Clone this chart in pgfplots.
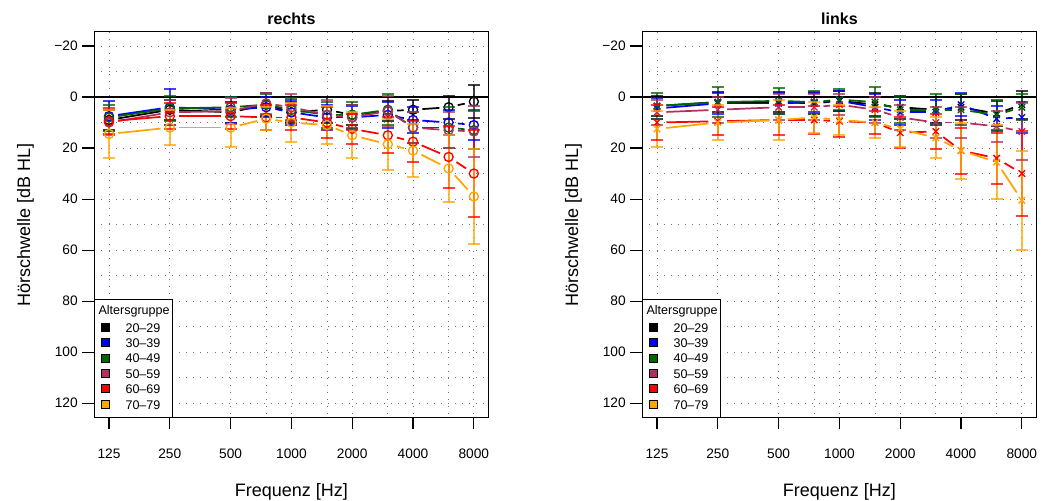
\documentclass[border=0pt]{standalone}
\usepackage{pgfplots}
\pgfplotsset{compat=1.18}
\usepackage{pgfplotstable}
\usepackage{fontspec}
\setmainfont{Liberation Sans}

% Farben der Altersgruppen
\definecolor{g20}{HTML}{000000}
\definecolor{g30}{HTML}{0000FF}
\definecolor{g40}{HTML}{006400}
\definecolor{g50}{HTML}{B03060}
\definecolor{g60}{HTML}{FF0000}
\definecolor{g70}{HTML}{FFA500}

% Mittelwert (m) und Standardabweichung (s) der Hörschwelle in dB HL
\pgfplotstableread{
f    m20 s20 m30 s30 m40 s40 m50  s50 m60  s60  m70  s70
125  9   4   7.5 6   8   5   10   5   9.5  5    14.5 9.5
250  5   4   4   7   4.5 5   6    5   7.5  5    12   7
500  6   4   5   5   4   4   5.5  5   7.5  5    12   7.5
750  3   4.5 4   4   3   4   2.5  4   8    5    8.5  4.5
1000 6   4   6   5   5   4.5 4    5   8    5    10   7.5
1500 5   5   8   5   7   5   7    6   10   6    11   7.5
2000 7   4   8   4.5 7   5   8    5   12.5 6    15   9
3000 5.5 4   7   5   5   6   5.5  6   15   7    18.5 10
4000 5   4   9   5   12  6   12   6   17.5 8    21   10.5
6000 4   4.5 10  5   12  8   13   7   23.5 12   28   13
8000 1.8 6.5 11  6   13  7.5 13.5 10  30   17   39   18.5
}\rechts

\pgfplotstableread{
f    m20 s20 m30 s30 m40 s40 m50  s50 m60  s60  m70  s70
125  3.5 4   4.5 4   3.5 5   6    5   10   7    12.5 7
250  2   4   2.5 4   2   6   5    5   9.5  5.5  10   7
500  2   4   2.5 4   1.5 5   4    5   9    6    9    8
750  2.5 4   2   4   2   4.5 4    5   9    5.5  8    6
1000 1.5 4   1.5 4   1   4   3    4   9.5  6    9    6
1500 3   4.5 4   5   2   6   5    5   10   4.5  10   6
2000 4   4.5 6   5   5   5   8    5   14   6    12.5 7
3000 5   5   6   5   5   6   10   6   13.5 7    16   8
4000 4   5   3   4.5 5   6   10   6   21   9    21   11
6000 6.5 5   8.5 5   7   6   11.5 6   24   10   25.5 14.5
8000 3   5.5 8   6   4   5   13.5 11  30   16.5 40.5 19.5
}\links

\pgfplotsset{
  sq/.style={legend image code/.code={%
      \path (0pt,0pt);
      \draw[fill=#1, draw=black, line width=0.5pt] (2.25pt,-3pt) rectangle ++(6pt,6pt);}},
  hoer/.style={
    scale only axis, width=295.5pt, height=289.2pt,
    xmin=-0.24, xmax=6.24, ymin=-25.6, ymax=125.6, y dir=reverse,
    xtick={0,1,2,3,4,5,6},
    xticklabels={125,250,500,1000,2000,4000,8000},
    minor xtick={2.585,3.585,4.585,5.585},
    ytick={-20,0,20,40,60,80,100,120},
    yticklabels={−20,0,20,40,60,80,100,120},
    minor ytick={-10,10,30,50,70,90,110},
    grid=both,
    major grid style={black!55, line width=0.7pt, dash pattern=on 0.7pt off 4.6pt},
    minor grid style={black!55, line width=0.7pt, dash pattern=on 0.7pt off 4.6pt},
    tick pos=left, tick align=outside,
    major tick length=9pt, minor tick length=0pt,
    every tick/.style={black, line width=0.8pt},
    axis line style={line width=0.8pt},
    ticklabel style={font=\fontsize{10.3}{12}\selectfont},
    xticklabel style={yshift=-11.5pt},
    xlabel={Frequenz [Hz]}, ylabel={Hörschwelle [dB HL]},
    label style={font=\fontsize{13.5}{15}\selectfont},
    xlabel style={at={(axis description cs:0.5,-0.1945)}, anchor=center},
    ylabel style={at={(axis description cs:-0.175,0.5)}, anchor=center, rotate=0},
    title style={font=\bfseries\fontsize{12}{14}\selectfont,
                 at={(axis description cs:0.5,1.0123)}, anchor=center},
    legend cell align=left,
    legend style={at={(axis description cs:0,0)}, anchor=south west,
      draw=black, line width=0.6pt, fill=white,
      inner xsep=2.25pt, inner ysep=3.8pt, row sep=0pt, column sep=12pt,
      font=\fontsize{9.4}{11}\selectfont,
      nodes={inner sep=0pt, text height=9.475pt, text depth=2.075pt}},
  },
}

% Eine Altersgruppe: Liniensegmente mit Lücken, Fehlerbalken mit Querstrichen, Marker
% (x = Oktavposition, 125 Hz = 0)
\newcommand{\drawgroup}[4]{%
  \pgfplotsinvokeforeach{0:1,1:2,2:3,3:4,4:5,5:6,6:7,7:8,8:9,9:10}{%
    \addplot[#3, line width=1.3pt, shorten <=7pt, shorten >=7pt, forget plot,
      restrict expr to domain={\coordindex}{##1}]
      table[x expr={ln(\thisrow{f}/125)/ln(2)}, y=m#2] {#1};
  }
  \addplot[#3, draw opacity=0, mark=none, forget plot,
    error bars/.cd, y dir=both, y explicit, error mark=none,
    error bar style={line width=1.5pt, opacity=0.75}]
    table[x expr={ln(\thisrow{f}/125)/ln(2)}, y=m#2, y error=s#2] {#1};
  \addplot[#3, only marks, mark=-, mark size=4.5pt, forget plot,
    mark options={line width=1.5pt, opacity=0.75}]
    table[x expr={ln(\thisrow{f}/125)/ln(2)}, y expr={\thisrow{m#2}-\thisrow{s#2}}] {#1};
  \addplot[#3, only marks, mark=-, mark size=4.5pt, forget plot,
    mark options={line width=1.5pt, opacity=0.75}]
    table[x expr={ln(\thisrow{f}/125)/ln(2)}, y expr={\thisrow{m#2}+\thisrow{s#2}}] {#1};
  \addplot[#3, only marks, mark=#4, mark size=3.4pt, forget plot,
    mark options={line width=1pt, solid, fill=none}]
    table[x expr={ln(\thisrow{f}/125)/ln(2)}, y=m#2] {#1};
}

\newcommand{\legendkeys}{%
  \addlegendimage{empty legend}\addlegendentry{\hspace*{-20.25pt}\raisebox{1.5pt}{Altersgruppe}}
  \addlegendimage{sq=g20}\addlegendentry{20–29}
  \addlegendimage{sq=g30}\addlegendentry{30–39}
  \addlegendimage{sq=g40}\addlegendentry{40–49}
  \addlegendimage{sq=g50}\addlegendentry{50–59}
  \addlegendimage{sq=g60}\addlegendentry{60–69}
  \addlegendimage{sq=g70}\addlegendentry{70–79}
}

\begin{document}
\begin{tikzpicture}
\useasboundingbox (0,0) rectangle (781.5pt,375pt);

\begin{axis}[hoer, at={(70.8pt,62pt)}, anchor=south west, title={rechts}]
  \legendkeys
  \drawgroup{\rechts}{20}{g20}{o}
  \drawgroup{\rechts}{30}{g30}{o}
  \drawgroup{\rechts}{40}{g40}{o}
  \drawgroup{\rechts}{50}{g50}{o}
  \drawgroup{\rechts}{60}{g60}{o}
  \drawgroup{\rechts}{70}{g70}{o}
  \addplot[black, line width=2.2pt, forget plot] coordinates {(-0.24,0) (6.24,0)};
\end{axis}

\begin{axis}[hoer, at={(481.8pt,62pt)}, anchor=south west, title={links}]
  \legendkeys
  \drawgroup{\links}{20}{g20}{x}
  \drawgroup{\links}{30}{g30}{x}
  \drawgroup{\links}{40}{g40}{x}
  \drawgroup{\links}{50}{g50}{x}
  \drawgroup{\links}{60}{g60}{x}
  \drawgroup{\links}{70}{g70}{x}
  \addplot[black, line width=2.2pt, forget plot] coordinates {(-0.24,0) (6.24,0)};
\end{axis}
\end{tikzpicture}
\end{document}
